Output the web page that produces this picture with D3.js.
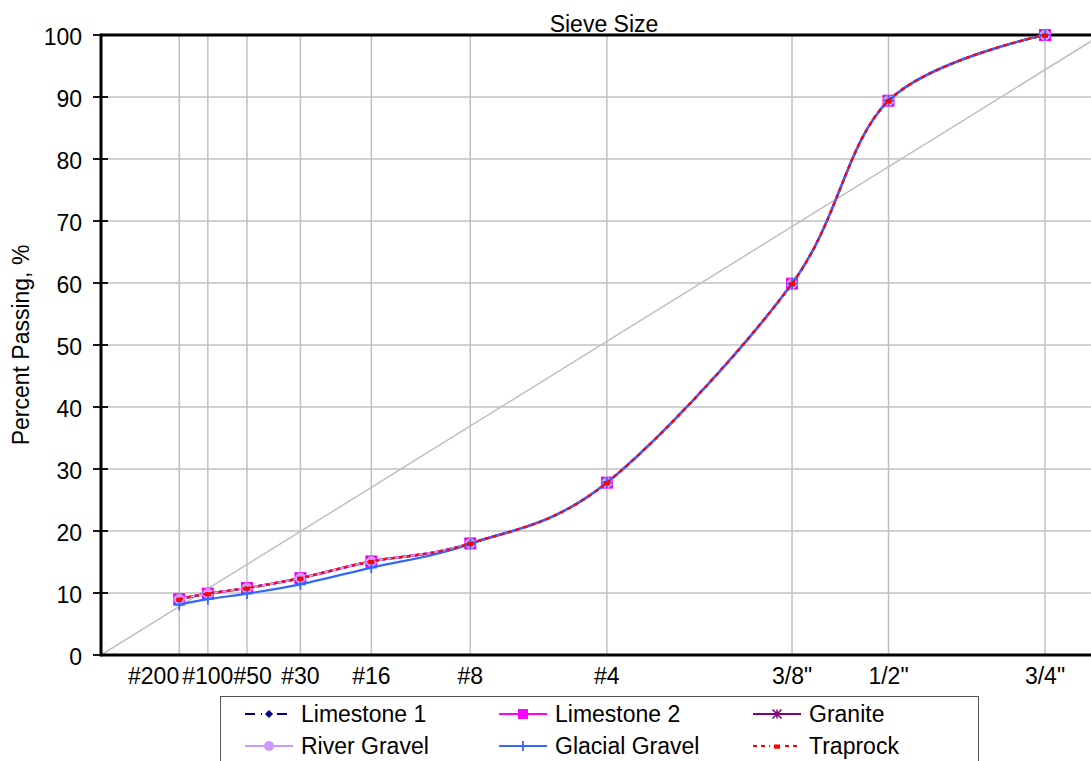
<!DOCTYPE html>
<html>
<head>
<meta charset="utf-8">
<script src="https://cdn.jsdelivr.net/npm/d3@7"></script>
<style>
  html, body { margin: 0; padding: 0; background: #fff; }
  svg { display: block; font-family: Arial, "Liberation Sans", sans-serif; }
</style>
</head>
<body>
<svg id="chart" width="1091" height="761"></svg>
<script>
// ---- data ----
const sieveLabels = ["#200", "#100", "#50", "#30", "#16", "#8", "#4", "3/8\"", "1/2\"", "3/4\""];
const sieveSizesMm = [0.075, 0.15, 0.3, 0.6, 1.18, 2.36, 4.75, 9.5, 12.7, 19.0];
const yTicks = [0, 10, 20, 30, 40, 50, 60, 70, 80, 90, 100];

const limestone1    = [9.0, 9.9, 10.8, 12.4, 15.1, 18.0, 27.8, 59.9, 89.4, 100];
const limestone2    = [9.0, 9.9, 10.8, 12.4, 15.1, 18.0, 27.8, 59.9, 89.4, 100];
const granite       = [9.0, 9.9, 10.8, 12.4, 15.1, 18.0, 27.8, 59.9, 89.4, 100];
const riverGravel   = [9.0, 9.9, 10.8, 12.4, 15.1, 18.0, 27.8, 59.9, 89.4, 100];
const glacialGravel = [8.1, 9.0, 9.9, 11.4, 14.1, 17.9, 27.8, 59.9, 89.4, 100];
const traprock      = [9.0, 9.9, 10.8, 12.4, 15.1, 18.0, 27.8, 59.9, 89.4, 100];

// maximum density line (0.45 power): from origin to 100% passing
const maxDensitySizes = [0, 21.6];
const maxDensityPassing = [0, 100];

const seriesNames = ["Limestone 1", "Limestone 2", "Granite", "River Gravel", "Glacial Gravel", "Traprock"];
const seriesValues = [limestone1, limestone2, granite, riverGravel, glacialGravel, traprock];

// ---- styles ----
const styles = {
  "Limestone 1":    { color: "#000080", dash: "10,6", marker: "diamond", size: 7 },
  "Limestone 2":    { color: "#FF00FF", dash: null,   marker: "square",  size: 12 },
  "Granite":        { color: "#800080", dash: null,   marker: "star",    size: 9 },
  "River Gravel":   { color: "#CC99FF", dash: null,   marker: "circle",  size: 11 },
  "Glacial Gravel": { color: "#3366FF", dash: null,   marker: "plus",    size: 11 },
  "Traprock":       { color: "#FF0000", dash: "4,4",  marker: "dash",    size: 6 }
};

const W = 1091, H = 761;
const plotLeft = 101, plotTop = 35, plotBottom = 655;
const svg = d3.select("#chart");
const fontSize = 23;

const x = d3.scalePow().exponent(0.45).domain([0, 19.0]).range([plotLeft, 1045]);
const y = d3.scaleLinear().domain([0, 100]).range([plotBottom, plotTop]);

// clip for plot area (extends beyond the picture on the right)
svg.append("clipPath").attr("id", "plotClip")
  .append("rect").attr("x", plotLeft).attr("y", plotTop - 8).attr("width", W - plotLeft).attr("height", plotBottom - plotTop + 8);

const grid = svg.append("g");

// horizontal gridlines
grid.selectAll("line.hg").data(yTicks.filter(d => d > 0 && d < 100)).enter()
  .append("line").attr("class", "hg")
  .attr("x1", plotLeft).attr("x2", W)
  .attr("y1", d => y(d)).attr("y2", d => y(d))
  .attr("stroke", "#c0c0c0").attr("stroke-width", 1.5);

// vertical gridlines at sieves
grid.selectAll("line.vg").data(sieveSizesMm).enter()
  .append("line").attr("class", "vg")
  .attr("x1", d => x(d)).attr("x2", d => x(d))
  .attr("y1", plotTop).attr("y2", plotBottom)
  .attr("stroke", "#c0c0c0").attr("stroke-width", 1.5);

// maximum density line
const maxG = svg.append("g").attr("clip-path", "url(#plotClip)");
maxG.append("line")
  .attr("x1", x(maxDensitySizes[0])).attr("y1", y(maxDensityPassing[0]))
  .attr("x2", x(maxDensitySizes[1])).attr("y2", y(maxDensityPassing[1]))
  .attr("stroke", "#c0c0c0").attr("stroke-width", 1.5);

// axes frame
svg.append("line").attr("x1", plotLeft).attr("x2", W).attr("y1", plotTop).attr("y2", plotTop)
  .attr("stroke", "#000").attr("stroke-width", 3);
svg.append("line").attr("x1", plotLeft).attr("x2", W).attr("y1", plotBottom).attr("y2", plotBottom)
  .attr("stroke", "#000").attr("stroke-width", 3);

// y axis via d3.axisLeft
const yAxis = d3.axisLeft(y).tickValues(yTicks).tickSize(0).tickPadding(19);
const yg = svg.append("g").attr("transform", `translate(${plotLeft},0)`).call(yAxis);
yg.select(".domain").remove();
yg.selectAll("text").attr("font-size", fontSize).attr("fill", "#000")
  .attr("font-family", "Arial, 'Liberation Sans', sans-serif").attr("dy", "0.42em");
// crossing tick marks
svg.selectAll("line.ytick").data(yTicks).enter().append("line").attr("class", "ytick")
  .attr("x1", plotLeft - 8).attr("x2", plotLeft + 7)
  .attr("y1", d => y(d)).attr("y2", d => y(d))
  .attr("stroke", "#000").attr("stroke-width", 1.8);
svg.append("line").attr("x1", plotLeft).attr("x2", plotLeft).attr("y1", plotTop - 1.5).attr("y2", plotBottom + 1.5)
  .attr("stroke", "#000").attr("stroke-width", 3);

// x tick labels with simple overlap handling
const xLabG = svg.append("g");
let prevRight = -Infinity;
const measures = [];
sieveLabels.forEach((lab, i) => {
  const t = xLabG.append("text").text(lab)
    .attr("font-size", fontSize).attr("fill", "#000")
    .attr("y", 684).attr("text-anchor", "start");
  const w = t.node().getComputedTextLength();
  measures.push({ t, w, cx: x(sieveSizesMm[i]) });
});
measures.forEach((m, i) => {
  let start = m.cx - m.w / 2;
  if (i === 0 && measures.length > 1) {
    const next = measures[1];
    if (m.cx + m.w / 2 > next.cx - next.w / 2) start = m.cx - m.w; // right-align to gridline
  }
  if (start < prevRight) start = prevRight;
  m.t.attr("x", start);
  prevRight = start + m.w;
});

// axis titles
svg.append("text").text("Sieve Size")
  .attr("x", 604).attr("y", 32).attr("text-anchor", "middle")
  .attr("font-size", fontSize).attr("fill", "#000");
svg.append("text").text("Percent Passing, %")
  .attr("transform", "translate(29,345) rotate(-90)")
  .attr("text-anchor", "middle").attr("font-size", fontSize).attr("fill", "#000");

// marker drawing
function drawMarker(g, type, color, size) {
  const s = size / 2;
  switch (type) {
    case "diamond":
      g.append("path").attr("d", `M0,${-s}L${s},0L0,${s}L${-s},0Z`).attr("fill", color).attr("stroke", color);
      break;
    case "square":
      g.append("rect").attr("x", -s).attr("y", -s).attr("width", size).attr("height", size).attr("fill", color);
      break;
    case "circle":
      g.append("circle").attr("r", s).attr("fill", color);
      break;
    case "star":
      g.append("path").attr("d", `M${-s},${-s}L${s},${s}M${-s},${s}L${s},${-s}M0,${-s}L0,${s}`)
        .attr("stroke", color).attr("stroke-width", 1.5).attr("fill", "none");
      break;
    case "plus":
      g.append("path").attr("d", `M${-s},0L${s},0M0,${-s}L0,${s}`)
        .attr("stroke", color).attr("stroke-width", 1.8).attr("fill", "none");
      break;
    case "dash":
      g.append("rect").attr("x", -s).attr("y", -s / 2).attr("width", size).attr("height", size * 0.7).attr("fill", color);
      break;
  }
}

// series
const line = d3.line()
  .x(d => x(d.size)).y(d => y(d.value))
  .curve(d3.curveCardinal.tension(0));

const dataG = svg.append("g").attr("clip-path", "url(#plotClip)");
seriesNames.forEach((name, si) => {
  const st = styles[name];
  const pts = sieveSizesMm.map((s, i) => ({ size: s, value: seriesValues[si][i] }));
  const g = dataG.append("g");
  g.append("path").datum(pts).attr("d", line)
    .attr("fill", "none").attr("stroke", st.color).attr("stroke-width", 2.2)
    .attr("stroke-dasharray", st.dash);
  pts.forEach(p => {
    const mg = g.append("g").attr("transform", `translate(${x(p.size)},${y(p.value)})`);
    drawMarker(mg, st.marker, st.color, st.size);
  });
});

// legend
const legend = svg.append("g");
legend.append("rect").attr("x", 220.5).attr("y", 696.5).attr("width", 758).attr("height", 90)
  .attr("fill", "#fff").attr("stroke", "#555").attr("stroke-width", 1);
const colX = [245, 499, 753];
const rowY = [714, 746];
const legendFont = 23;
seriesNames.forEach((name, i) => {
  const st = styles[name];
  const cx = colX[i % 3], cy = rowY[Math.floor(i / 3)];
  legend.append("line").attr("x1", cx).attr("x2", cx + 48).attr("y1", cy).attr("y2", cy)
    .attr("stroke", st.color).attr("stroke-width", 2.2).attr("stroke-dasharray", st.dash);
  const mg = legend.append("g").attr("transform", `translate(${cx + 24},${cy})`);
  if (st.dash) mg.append("rect").attr("x", -7).attr("y", -3).attr("width", 14).attr("height", 6).attr("fill", "#fff");
  drawMarker(mg, st.marker, st.color, Math.min(st.size, 10));
  legend.append("text").text(name).attr("x", cx + 56).attr("y", cy).attr("dy", "0.34em")
    .attr("font-size", legendFont).attr("fill", "#000");
});
</script>
</body>
</html>
